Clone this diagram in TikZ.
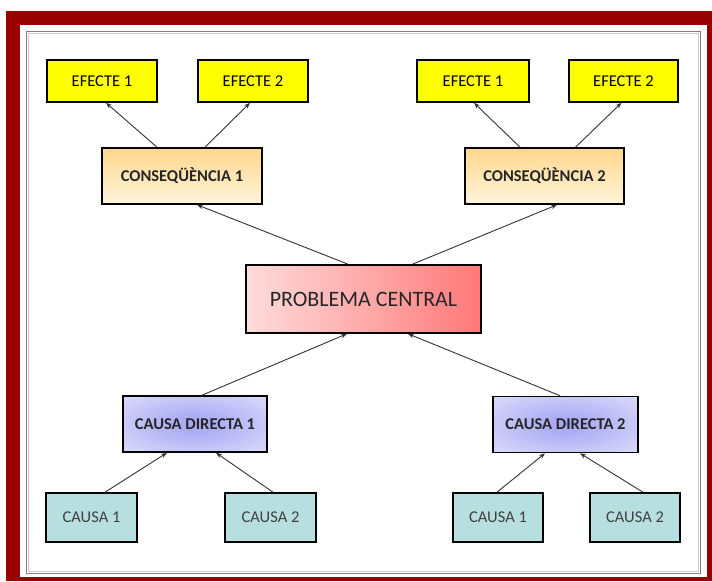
\documentclass[tikz,border=0pt]{standalone}
\usepackage{fontspec}
\setmainfont{Carlito}
\usetikzlibrary{arrows.meta,calc}
\definecolor{frame}{HTML}{990000}
\definecolor{efy}{HTML}{FFFF00}
\definecolor{constop}{HTML}{FFD88C}
\definecolor{consbot}{HTML}{FFF4DC}
\definecolor{pcl}{HTML}{FFDCDC}
\definecolor{pcr}{HTML}{FF7878}
\definecolor{dirin}{HTML}{A4A4F4}
\definecolor{dirout}{HTML}{E6E6FC}
\definecolor{causa}{HTML}{B8DFE0}
\definecolor{txt}{HTML}{262626}
\pgfdeclareradialshading{dirshade}{\pgfpoint{0bp}{0bp}}{color(0bp)=(dirin); color(12bp)=(dirin!75!dirout); color(42bp)=(dirout); color(50bp)=(dirout)}
\begin{document}
\begin{tikzpicture}[x=1pt,y=-1pt,
  box/.style={draw=black,line width=1.6pt,inner sep=0pt,text=txt,font=\fontsize{16.5}{18}\selectfont},
  efbox/.style={box,fill=efy,minimum width=110pt,minimum height=42pt,text=black},
  consbox/.style={box,top color=constop,bottom color=consbot,minimum width=160pt,minimum height=56pt,font=\fontsize{16.5}{18}\selectfont\bfseries},
  pcbox/.style={box,left color=pcl,right color=pcr,minimum width=235pt,minimum height=68pt,font=\fontsize{22}{24}\selectfont},
  dirbox/.style={box,shading=dirshade,minimum width=144pt,minimum height=56pt,font=\fontsize{16.5}{18}\selectfont\bfseries},
  causabox/.style={box,fill=causa,minimum width=91pt,minimum height=49pt,text=black!75},
  arr/.style={draw=black!80,line width=0.9pt,-{Stealth[length=6pt,width=4.5pt]}}
]
\useasboundingbox (0,0) rectangle (712,581);
% frame
\fill[frame] (6,11) rectangle (712,581);
\fill[white] (20,25) rectangle (707,577);
\draw[black!50,line width=1.6pt] (26.5,31.5) rectangle (700.5,573.5);
\draw[black!20,line width=0.6pt] (28.3,33.3) rectangle (698.7,571.7);

% effects
\node[efbox] (ef1L) at (102,81) {EFECTE 1};
\node[efbox] (ef2L) at (253,81) {EFECTE 2};
\node[efbox,minimum width=112pt] (ef1R) at (473,81) {EFECTE 1};
\node[efbox,minimum width=109pt] (ef2R) at (623.5,81) {EFECTE 2};
% consequences
\node[consbox] (c1) at (182,176) {CONSEQÜÈNCIA 1};
\node[consbox,minimum width=159pt] (c2) at (544.5,176) {CONSEQÜÈNCIA 2};
% central problem
\node[pcbox] (pc) at (363.5,299) {PROBLEMA CENTRAL};
% direct causes
\node[dirbox] (d1) at (195,424) {CAUSA DIRECTA 1};
\node[dirbox,minimum width=145pt] (d2) at (565.5,424.5) {CAUSA DIRECTA 2};
% causes
\node[causabox] (k1L) at (91.5,517.5) {CAUSA 1};
\node[causabox] (k2L) at (270.5,517.5) {CAUSA 2};
\node[causabox,minimum width=90pt] (k1R) at (498,517.5) {CAUSA 1};
\node[causabox,minimum width=90pt] (k2R) at (635,517.5) {CAUSA 2};

% arrows
\draw[arr] ([xshift=-25pt]c1.north) -- ([xshift=4pt]ef1L.south);
\draw[arr] ([xshift=23pt]c1.north) -- ([xshift=-3pt]ef2L.south);
\draw[arr] ([xshift=-24.5pt]c2.north) -- ([xshift=1pt]ef1R.south);
\draw[arr] ([xshift=31pt]c2.north) -- ([xshift=-2pt]ef2R.south);
\draw[arr] ([xshift=-15.5pt]pc.north) -- ([xshift=15pt]c1.south);
\draw[arr] ([xshift=49pt]pc.north) -- ([xshift=12.5pt]c2.south);
\draw[arr] ([xshift=7pt]d1.north) -- ([xshift=-16.5pt]pc.south);
\draw[arr] ([xshift=-5.5pt]d2.north) -- ([xshift=44.5pt]pc.south);
\draw[arr] ([xshift=13.5pt]k1L.north) -- ([xshift=-28pt]d1.south);
\draw[arr] ([xshift=2.5pt]k2L.north) -- ([xshift=21pt]d1.south);
\draw[arr] ([xshift=-1pt]k1R.north) -- ([xshift=-20.5pt]d2.south);
\draw[arr] ([xshift=8pt]k2R.north) -- ([xshift=14.5pt]d2.south);
\end{tikzpicture}
\end{document}
